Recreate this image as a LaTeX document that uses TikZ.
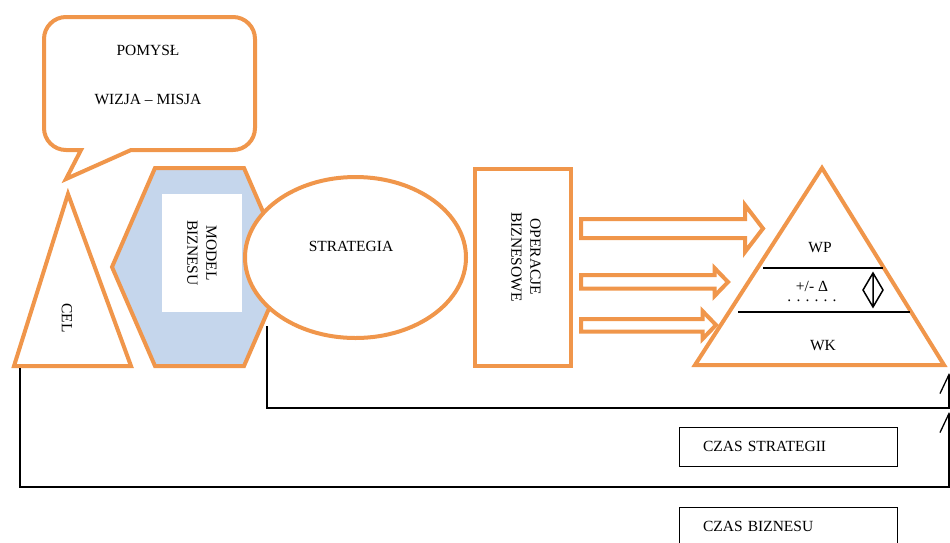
\documentclass[tikz,border=0pt]{standalone}
\usepackage{fontspec}
\setmainfont{Liberation Serif}
\usepackage{tikz}
\usetikzlibrary{shapes.geometric, arrows.meta}
\definecolor{orangeline}{HTML}{F0964B}
\definecolor{modelblue}{HTML}{C5D6EC}
\tikzstyle{orangeshape} = [draw=orangeline, line width=4pt, fill=white]
\tikzstyle{blockarrow} = [draw=orangeline, line width=4pt, fill=white]
\tikzstyle{levelline} = [draw=black, line width=1.8pt]
\tikzstyle{timeline} = [draw=black, line width=1.3pt, -{Straight Barb[length=19pt, width=18pt]}]
\tikzstyle{timebox} = [rectangle, draw=black, line width=1pt, text width=170pt, inner xsep=24pt, minimum height=39pt, align=left]
\tikzstyle{vertical} = [rotate=-90, align=center]

\begin{document}
\begin{tikzpicture}[x=1pt, y=-1pt, font=\fontsize{15.5}{19}\selectfont]
		\useasboundingbox (0,0) rectangle (950,542);
		\clip (0,0) rectangle (950,542);
		% idea bubble
		\draw[orangeshape] (150,17) [rounded corners=22pt] -- (255,17) -- (255,150) [sharp corners] -- (131,150) -- (66,179) -- (81,150) [rounded corners=22pt] -- (44,150) -- (44,17) -- cycle;
		\node (idea) at (148,75) [align=center] {POMYSŁ\\[30pt]WIZJA – MISJA};
		% goal
		\draw[orangeshape] (14,366) -- (131,366) -- (68,194) -- cycle;
		\node (cel) [vertical] at (67,318) {CEL};
		% business model
		\draw[orangeshape, fill=modelblue] (112,267) -- (155,168) -- (244,168) -- (287,267) -- (244,366) -- (155,366) -- cycle;
		\node (model) [vertical, fill=white, minimum width=118pt, minimum height=80pt] at (202,253) {MODEL\\BIZNESU};
		% strategy
		\node (strategia) [ellipse, orangeshape, minimum width=221pt, minimum height=161pt] at (355.5,257.5) {};
		\node (strattext) at (351,246) {STRATEGIA};
		% operations
		\node (operacje) [rectangle, orangeshape, minimum width=96pt, minimum height=197pt] at (523,267.5) {};
		\node (optext) [vertical] at (526,257) {OPERACJE\\BIZNESOWE};
		% block arrows
		\draw[blockarrow] (581,219) -- (745,219) -- (745,205) -- (763,228.5) -- (745,252) -- (745,238) -- (581,238) -- cycle;
		\draw[blockarrow] (581,275) -- (714.5,275) -- (714.5,268) -- (728,282) -- (714.5,296) -- (714.5,288.5) -- (581,288.5) -- cycle;
		\draw[blockarrow] (581,319) -- (702.5,319) -- (702.5,311) -- (716,325) -- (702.5,339) -- (702.5,331.5) -- (581,331.5) -- cycle;
		% results pyramid
		\draw[orangeshape] (695,365) -- (944,365) -- (822,168) -- cycle;
		\draw[levelline] (763,268) -- (883,268);
		\draw[levelline] (738,312) -- (910,312);
		\node (wp) at (820,248) {WP};
		\node (delta) [inner sep=0pt] at (812,286) {+/- Δ};
		\node (dots) [inner sep=0pt] at (812,301) {. . . . . .};
		\node (wk) at (823,346) {WK};
		\draw[black, line width=1.5pt] (873,273) -- (883,290) -- (873,307) -- (863,290) -- cycle (873,273) -- (873,307);
		% time lines
		\coordinate (stratstart) at (267,326);
		\coordinate (stratturn) at (949,408);
		\coordinate (stratend) at (949,373);
		\draw[timeline] (stratstart) |- (stratturn) -- (stratend);
		\coordinate (bizstart) at (20,368);
		\coordinate (bizturn) at (949,487);
		\coordinate (bizend) at (949,412);
		\draw[timeline] (bizstart) |- (bizturn) -- (bizend);
		\node (czasstrat) [timebox] at (788,446.5) {CZAS STRATEGII};
		\node (czasbiz) [timebox] at (788,526.5) {CZAS BIZNESU};
	\end{tikzpicture}
\end{document}
